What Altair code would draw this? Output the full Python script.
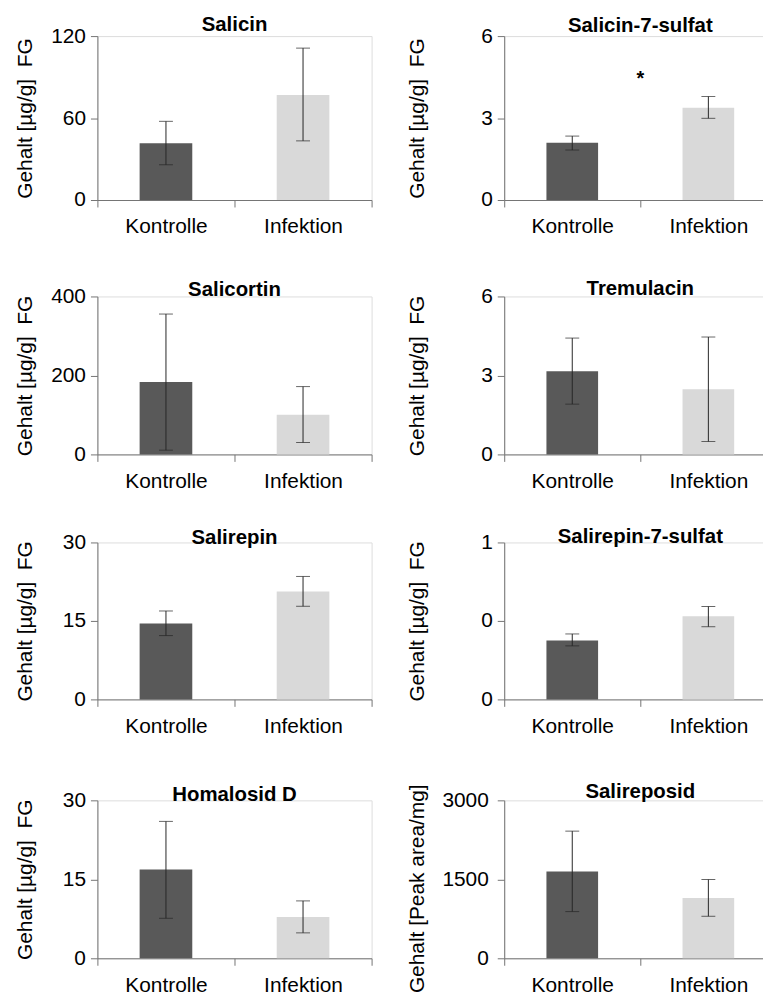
import altair as alt
import pandas as pd

# ---------------- data ----------------
groups = ["Kontrolle", "Infektion"]
titles = ["Salicin", "Salicin-7-sulfat", "Salicortin", "Tremulacin",
          "Salirepin", "Salirepin-7-sulfat", "Homalosid D", "Salireposid"]
means = [[41.5, 76.8], [2.10, 3.38], [183.6, 100.6], [3.16, 2.48],
         [14.5, 20.6], [0.375, 0.529], [16.85, 7.85], [1647, 1143]]
lower = [[25.8, 43.3], [1.83, 2.99], [10.8, 30.2], [1.91, 0.49],
         [12.2, 17.8], [0.341, 0.463], [7.6, 4.83], [887, 798]]
upper = [[57.6, 111.2], [2.34, 3.79], [355.5, 171.8], [4.42, 4.46],
         [16.9, 23.5], [0.417, 0.592], [26.0, 10.9], [2415, 1496]]
y_max = [120, 6, 400, 6, 30, 1, 30, 3000]
tick_values = [[0, 60, 120], [0, 3, 6], [0, 200, 400], [0, 3, 6],
               [0, 15, 30], [0, 0.5, 1], [0, 15, 30], [0, 1500, 3000]]
tick_labels = [["0", "60", "120"], ["0", "3", "6"], ["0", "200", "400"], ["0", "3", "6"],
               ["0", "15", "30"], ["0", "0", "1"], ["0", "15", "30"], ["0", "1500", "3000"]]
y_titles = ["Gehalt [µg/g] \u00a0FG"] * 7 + ["Gehalt [Peak area/mg]"]
star_panel = "Salicin-7-sulfat"
star_group = ["Kontrolle"]
star_y = [4.2]
star_text = ["*"]

# ---------------- style ----------------
FONT = "Liberation Sans"
DARK = "#595959"
LIGHT = "#d9d9d9"
AXIS = "#747474"
ERR = "#262626"
heights = [165, 159, 158, 159]
title_dy = [[-5, -4], [0, -1], [2, 1], [1, -2]]


def label_expr(vals, labs):
    expr = f"'{labs[-1]}'"
    for v, l in reversed(list(zip(vals[:-1], labs[:-1]))):
        expr = f"datum.value == {v} ? '{l}' : " + expr
    return expr


def panel(i):
    row, col = divmod(i, 2)
    width = 276 if col == 0 else 274
    bar_size = 53 if col == 0 else 52
    df = pd.DataFrame({"group": groups, "mean": means[i], "lo": lower[i], "hi": upper[i]})
    xscale = alt.Scale(domain=groups, paddingInner=0, paddingOuter=0)
    xaxis = alt.Axis(title=None, labelAngle=0, tickBand="extent", tickSize=7,
                     tickColor=AXIS, domainColor=AXIS, labelFontSize=21, labelFont=FONT,
                     labelColor="black", labelPadding=9, grid=False)
    yscale = alt.Scale(domain=[0, y_max[i]], nice=False, zero=True)
    yaxis = alt.Axis(values=tick_values[i], labelExpr=label_expr(tick_values[i], tick_labels[i]),
                     title=y_titles[i], titleX=(-72 if col == 0 else -87), titleBaseline="middle",
                     titleY=(heights[row] / 2 + 9 if i == 7 else heights[row] / 2),
                     titleFontSize=21, titleFont=FONT, titleFontWeight="normal", titleColor="black",
                     labelFontSize=21, labelFont=FONT, labelColor="black", tickSize=7,
                     tickColor=AXIS, domainColor=AXIS, labelPadding=(9 if i == 7 else 5), grid=False)
    x = alt.X("group:N", sort=groups, scale=xscale, axis=xaxis)
    base = alt.Chart(df)
    bars = base.mark_bar(size=bar_size).encode(
        x=x,
        y=alt.Y("mean:Q", scale=yscale, axis=yaxis, title=y_titles[i]),
        color=alt.Color("group:N", scale=alt.Scale(domain=groups, range=[DARK, LIGHT]), legend=None),
    )
    rule = base.mark_rule(color=ERR, strokeWidth=1).encode(
        x=alt.X("group:N", sort=groups),
        y=alt.Y("lo:Q", title=y_titles[i]), y2="hi:Q")
    cap_lo = base.mark_tick(color=ERR, size=14, thickness=1).encode(
        x=alt.X("group:N", sort=groups), y=alt.Y("lo:Q", title=y_titles[i]))
    cap_hi = base.mark_tick(color=ERR, size=14, thickness=1).encode(
        x=alt.X("group:N", sort=groups), y=alt.Y("hi:Q", title=y_titles[i]))
    tdf = pd.DataFrame({"group": [groups[0]], "top": [y_max[i]], "t": [titles[i]]})
    title = alt.Chart(tdf).mark_text(fontSize=20.5, fontWeight="bold", font=FONT, color="black",
                                     baseline="alphabetic", align="center",
                                     dy=title_dy[row][col]).encode(
        x=alt.X("group:N", bandPosition=1),
        y=alt.Y("top:Q", title=y_titles[i]),
        text="t:N")
    layers = [bars, rule, cap_lo, cap_hi, title]
    if titles[i] == star_panel:
        sdf = pd.DataFrame({"group": star_group, "y": star_y, "t": star_text})
        layers.append(
            alt.Chart(sdf).mark_text(fontSize=20, fontWeight="bold", font=FONT,
                                     baseline="alphabetic", color="black").encode(
                x=alt.X("group:N", bandPosition=1),
                y=alt.Y("y:Q", title=y_titles[i]),
                text="t:N"))
    return alt.layer(*layers).properties(width=width, height=heights[row])


rows = [alt.hconcat(panel(2 * r), panel(2 * r + 1), spacing=33.5) for r in range(4)]
g1, g2, g3 = 41.1, 34.6, 44.6
chart = alt.vconcat(
    rows[0],
    alt.vconcat(rows[1], alt.vconcat(rows[2], rows[3], spacing=g3), spacing=g2),
    spacing=g1,
).properties(
    padding={"left": 6, "top": 3, "right": -15, "bottom": 0}
).configure_view(stroke=None).configure(background="white")

chart.save("out.html", embed_options={"renderer": "svg", "actions": False})
